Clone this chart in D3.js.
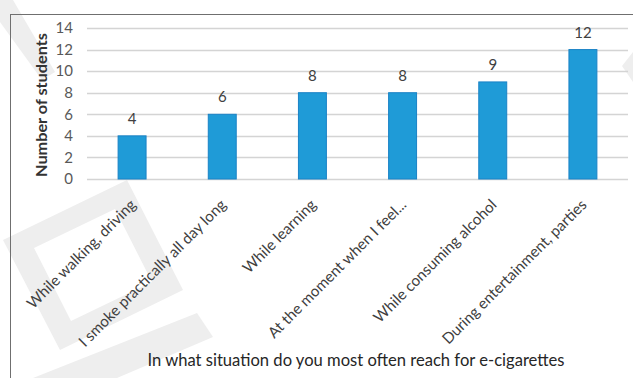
<!DOCTYPE html>
<html>
<head>
<meta charset="utf-8">
<script src="https://cdn.jsdelivr.net/npm/d3@7"></script>
<style>
  body { margin: 0; background: #fff; }
  svg { display: block; font-family: Lato, "Open Sans", sans-serif; }
</style>
</head>
<body>
<div id="graph"></div>
<script>
const categories = [
  "While walking, driving",
  "I smoke practically all day long",
  "While learning",
  "At the moment when I feel...",
  "While consuming alcohol",
  "During entertainment, parties"
];
const students = [4, 6, 8, 8, 9, 12];
const yTicks = [0, 2, 4, 6, 8, 10, 12, 14];

const svgWidth = 633, svgHeight = 378;
const plot = { left: 87, right: 628, top: 28, bottom: 179 };

const svg = d3.select('#graph').html("")
  .append('svg')
  .attr('width', svgWidth)
  .attr('height', svgHeight);

// faint watermark shapes behind the chart
const wm = svg.append('g').attr('fill', '#eeeeee');
wm.append('path')
  .attr('fill-rule', 'evenodd')
  .attr('d', 'M127,180 L183,290 L60,350 L3,240 Z M115,209 L34,248 L71,321 L152,282 Z');
wm.append('polygon').attr('points', '0,0 13,0 55,72 42,80 0,22');
wm.append('polygon').attr('points', '33,378 197,313 213,337 117,378');
wm.append('polygon').attr('points', '633,52 633,82 622,66');

// outer border (right and bottom edges fall outside the picture)
svg.append('rect')
  .attr('x', 10.5).attr('y', 14.5)
  .attr('width', 640).attr('height', 400)
  .attr('fill', 'none')
  .attr('stroke', '#6f6f6f')
  .attr('stroke-width', 1);

const xScale = d3.scaleBand()
  .domain(categories)
  .range([plot.left, plot.right])
  .paddingInner(0.69)
  .paddingOuter(0.345);

const yScale = d3.scaleLinear()
  .domain([0, 14])
  .range([plot.bottom, plot.top]);

// gridlines
svg.append('g')
  .selectAll('line')
  .data(yTicks)
  .enter().append('line')
  .attr('x1', plot.left)
  .attr('x2', plot.right)
  .attr('y1', d => Math.round(yScale(d)) + 0.5)
  .attr('y2', d => Math.round(yScale(d)) + 0.5)
  .attr('stroke', '#d4d4d4')
  .attr('stroke-width', 1.3);

// y axis labels
const yAxis = svg.append('g')
  .attr('transform', `translate(${plot.left},0)`)
  .call(d3.axisLeft(yScale).tickValues(yTicks).tickSize(0).tickPadding(14));
yAxis.select('.domain').remove();
yAxis.selectAll('text')
  .attr('font-family', 'Lato, sans-serif')
  .attr('font-size', 15)
  .attr('fill', '#595959');

// bars
svg.selectAll('.bar')
  .data(students)
  .enter().append('rect')
  .classed('bar', true)
  .attr('x', (d, i) => xScale(categories[i]))
  .attr('y', d => yScale(d))
  .attr('width', xScale.bandwidth())
  .attr('height', d => plot.bottom - yScale(d))
  .attr('fill', '#1f9bd7')
  .attr('stroke', '#1a82c6')
  .attr('stroke-width', 1);

// value labels
svg.selectAll('.val')
  .data(students)
  .enter().append('text')
  .classed('val', true)
  .attr('x', (d, i) => xScale(categories[i]) + xScale.bandwidth() / 2)
  .attr('y', d => yScale(d) - 12)
  .attr('text-anchor', 'middle')
  .attr('font-size', 15)
  .attr('fill', '#404040')
  .text(d => d);

// x axis category labels
const xAxis = svg.append('g')
  .attr('transform', `translate(0,${plot.bottom})`)
  .call(d3.axisBottom(xScale).tickSize(0).tickPadding(0));
xAxis.select('.domain').remove();
xAxis.selectAll('text')
  .attr('font-family', 'Lato, sans-serif')
  .attr('font-size', 15.2)
  .attr('fill', '#404040')
  .attr('text-anchor', 'end')
  .attr('dy', '0.35em')
  .attr('transform', 'translate(1,23) rotate(-45)');

// axis titles
svg.append('text')
  .attr('transform', `translate(47,105) rotate(-90)`)
  .attr('text-anchor', 'middle')
  .attr('font-size', 16)
  .attr('font-weight', 'bold')
  .attr('fill', '#333333')
  .attr('textLength', 144)
  .attr('lengthAdjust', 'spacingAndGlyphs')
  .text('Number of students');

svg.append('text')
  .attr('x', 356)
  .attr('y', 366)
  .attr('text-anchor', 'middle')
  .attr('font-size', 16.5)
  .attr('fill', '#262626')
  .attr('textLength', 417)
  .attr('lengthAdjust', 'spacingAndGlyphs')
  .text('In what situation do you most often reach for e-cigarettes');
</script>
</body>
</html>
